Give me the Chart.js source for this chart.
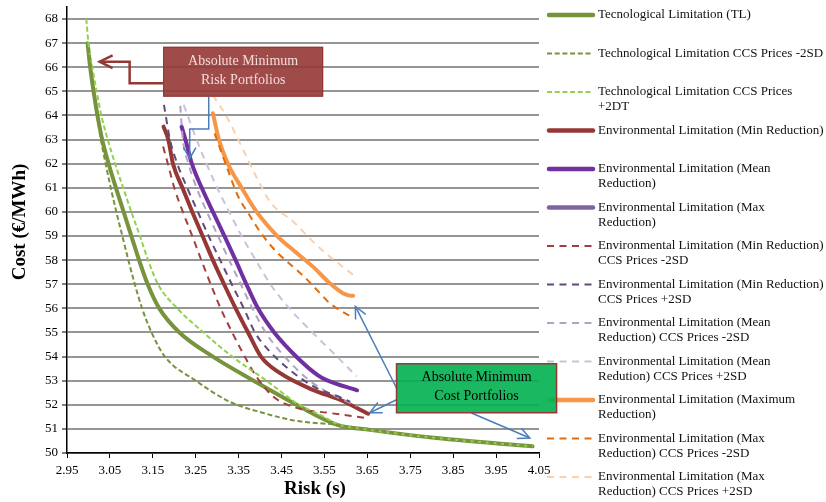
<!DOCTYPE html>
<html>
<head>
<meta charset="utf-8">
<script src="https://cdn.jsdelivr.net/npm/chart.js@4.4.1/dist/chart.umd.min.js"></script>
<style>
  html, body { margin: 0; padding: 0; background: #fff; }
  canvas { display: block; }
</style>
</head>
<body>
<canvas id="frontier" width="826" height="502"></canvas>
<script>
// Tick labels
const riskTicks = ['2.95', '3.05', '3.15', '3.25', '3.35', '3.45', '3.55', '3.65', '3.75', '3.85', '3.95', '4.05'];
const costTicks = [50, 51, 52, 53, 54, 55, 56, 57, 58, 59, 60, 61, 62, 63, 64, 65, 66, 67, 68];

// Efficient frontiers, [risk (s), cost (€/MWh)]
const tecLimit = [[2.998, 67.0], [3.004, 66.0], [3.012, 65.0], [3.021, 64.0], [3.032, 63.0], [3.047, 62.0], [3.064, 61.0], [3.082, 60.0], [3.1, 59.0], [3.118, 58.0], [3.138, 57.0], [3.165, 56.0], [3.212, 55.0], [3.29, 54.0], [3.385, 53.0], [3.485, 52.0], [3.58, 51.17], [3.656, 50.96], [3.811, 50.62], [4.035, 50.28]];
const tecLimitLow = [[3.0, 66.8], [3.006, 66.0], [3.013, 65.0], [3.02, 64.0], [3.029, 63.0], [3.04, 62.0], [3.052, 61.0], [3.065, 60.0], [3.079, 59.0], [3.093, 58.0], [3.108, 57.0], [3.125, 56.0], [3.147, 55.0], [3.178, 54.0], [3.25, 53.0], [3.33, 52.12], [3.406, 51.67], [3.485, 51.33], [3.58, 51.17], [3.656, 50.96], [3.811, 50.62], [4.035, 50.28]];
const tecLimitHigh = [[2.995, 68.0], [3.0, 67.0], [3.009, 66.0], [3.019, 65.0], [3.03, 64.0], [3.045, 63.0], [3.062, 62.0], [3.081, 61.0], [3.1, 60.0], [3.12, 59.0], [3.139, 58.0], [3.162, 57.0], [3.207, 56.0], [3.268, 55.0], [3.335, 54.0], [3.415, 53.0], [3.485, 52.07], [3.547, 51.52], [3.58, 51.2], [3.656, 50.96], [3.811, 50.62], [4.035, 50.28]];
const envMin = [[3.175, 63.54], [3.186, 63.0], [3.197, 62.0], [3.219, 61.0], [3.242, 60.0], [3.266, 59.0], [3.29, 58.0], [3.316, 57.0], [3.343, 56.0], [3.372, 55.0], [3.402, 54.0], [3.446, 53.32], [3.523, 52.62], [3.586, 52.21], [3.652, 51.63]];
const envMean = [[3.217, 63.54], [3.226, 63.0], [3.241, 62.0], [3.264, 61.0], [3.29, 60.0], [3.317, 59.0], [3.343, 58.0], [3.368, 57.0], [3.395, 56.0], [3.433, 55.0], [3.49, 53.9], [3.535, 53.22], [3.555, 53.02], [3.626, 52.6]];
const envMax = [];
const envMinLow = [[3.174, 62.71], [3.185, 62.0], [3.2, 61.0], [3.22, 60.0], [3.242, 59.0], [3.263, 58.0], [3.285, 57.0], [3.308, 56.0], [3.335, 55.0], [3.36, 54.14], [3.391, 53.18], [3.43, 52.35], [3.485, 51.87], [3.562, 51.66], [3.648, 51.45]];
const envMinHigh = [[3.176, 64.44], [3.19, 63.0], [3.207, 62.0], [3.23, 61.0], [3.255, 60.0], [3.28, 59.0], [3.307, 58.0], [3.334, 57.0], [3.362, 56.0], [3.388, 55.0], [3.413, 54.4], [3.469, 53.45], [3.531, 52.7], [3.586, 52.32], [3.61, 52.12]];
const envMeanLow = [[3.214, 64.4], [3.22, 63.0], [3.233, 62.0], [3.252, 61.0], [3.276, 60.0], [3.302, 59.0], [3.328, 58.0], [3.355, 57.0], [3.382, 56.0], [3.413, 55.0], [3.45, 54.14], [3.523, 52.9], [3.625, 51.94]];
const envMeanHigh = [[3.222, 64.44], [3.252, 63.0], [3.275, 62.0], [3.3, 61.0], [3.328, 60.0], [3.357, 59.0], [3.39, 58.0], [3.424, 57.0], [3.468, 56.0], [3.522, 55.0], [3.579, 54.0], [3.625, 53.18]];
const envMaximum = [[3.29, 64.09], [3.304, 63.0], [3.325, 62.0], [3.357, 61.0], [3.392, 60.0], [3.44, 59.0], [3.477, 58.42], [3.523, 57.73], [3.562, 57.05], [3.593, 56.63], [3.606, 56.54], [3.617, 56.52]];
const envMaximumLow = [[3.294, 63.26], [3.322, 61.88], [3.349, 60.64], [3.374, 59.9], [3.403, 59.1], [3.438, 58.35], [3.485, 57.6], [3.51, 57.18], [3.547, 56.49], [3.562, 56.22], [3.617, 55.6]];
const envMaximumHigh = [[3.29, 64.85], [3.322, 63.95], [3.357, 62.71], [3.391, 61.46], [3.424, 60.4], [3.477, 59.6], [3.539, 58.5], [3.617, 57.39]];

// Legend names, one entry per line of text
const seriesNames = [
  ['Tecnological Limitation (TL)'],
  ['Technological Limitation CCS Prices -2SD'],
  ['Technological Limitation CCS Prices', '+2DT'],
  ['Environmental Limitation (Min Reduction)'],
  ['Environmental Limitation (Mean', 'Reduction)'],
  ['Environmental Limitation (Max', 'Reduction)'],
  ['Environmental Limitation (Min Reduction)', 'CCS Prices -2SD'],
  ['Environmental Limitation (Min Reduction)', 'CCS Prices +2SD'],
  ['Environmental Limitation (Mean', 'Reduction) CCS Prices -2SD'],
  ['Environmental Limitation (Mean', 'Redution) CCS Prices +2SD'],
  ['Environmental Limitation (Maximum', 'Reduction)'],
  ['Environmental Limitation (Max', 'Reduction) CCS Prices -2SD'],
  ['Environmental Limitation (Max', 'Reduction) CCS Prices +2SD']
];
const seriesData = [tecLimit, tecLimitLow, tecLimitHigh, envMin, envMean, envMax, envMinLow, envMinHigh, envMeanLow, envMeanHigh, envMaximum, envMaximumLow, envMaximumHigh];

// Line styles
const GREEN_DASH = [5, 2.7];
const ENV_DASH = [7, 5.5];
const seriesStyles = [
  { color: '#77933C', dash: [] },
  { color: '#77933C', dash: GREEN_DASH },
  { color: '#92D050', dash: GREEN_DASH },
  { color: '#953735', dash: [] },
  { color: '#7030A0', dash: [] },
  { color: '#8064A2', dash: [] },
  { color: '#A33E3B', dash: ENV_DASH },
  { color: '#604A7B', dash: ENV_DASH },
  { color: '#B3A2C7', dash: ENV_DASH },
  { color: '#CCC1DA', dash: ENV_DASH },
  { color: '#F79646', dash: [] },
  { color: '#E46C0A', dash: ENV_DASH },
  { color: '#FAD1AE', dash: ENV_DASH }
];

// Callout anchors, [risk, cost]
const riskBox = { x0: 3.174, x1: 3.547, y0: 66.85, y1: 64.78, lines: ['Absolute Minimum', 'Risk Portfolios'] };
const costBox = { x0: 3.718, x1: 4.091, y0: 53.70, y1: 51.67, lines: ['Absolute Minimum', 'Cost Portfolios'] };
const riskArrowRed = [[3.174, 65.34], [3.096, 65.34], [3.096, 66.23], [3.026, 66.23]];
const riskArrowBlue = [[3.2803, 64.77], [3.2803, 63.44], [3.236, 63.44], [3.236, 62.22]];
const costArrows = [
  [[3.720, 52.625], [3.622, 56.08]],
  [[3.718, 52.21], [3.6556, 51.67]],
  [[3.8927, 51.66], [4.0286, 50.62]]
];

const FONT = '"Liberation Serif", "Times New Roman", serif';
Chart.defaults.font.family = FONT;
Chart.defaults.color = '#000';

const datasets = seriesData.map((pts, i) => {
  const st = seriesStyles[i];
  const dashed = st.dash.length > 0;
  return {
    label: seriesNames[i].join(' '),
    data: pts.map(p => ({ x: p[0], y: p[1] })),
    borderColor: st.color,
    backgroundColor: st.color,
    borderWidth: dashed ? 2 : 4,
    borderDash: st.dash,
    borderCapStyle: dashed ? 'butt' : 'round',
    borderJoinStyle: 'round',
    pointRadius: 0,
    pointHoverRadius: 0,
    cubicInterpolationMode: 'monotone',
    fill: false,
    order: dashed ? 0 : 1
  };
});

function drawArrow(ctx, pts, color, width, headLen, headAng) {
  ctx.save();
  ctx.strokeStyle = color;
  ctx.lineWidth = width;
  ctx.lineJoin = 'miter';
  ctx.setLineDash([]);
  ctx.beginPath();
  pts.forEach((p, i) => i ? ctx.lineTo(p[0], p[1]) : ctx.moveTo(p[0], p[1]));
  ctx.stroke();
  const [x1, y1] = pts[pts.length - 2];
  const [x2, y2] = pts[pts.length - 1];
  const a = Math.atan2(y2 - y1, x2 - x1);
  ctx.beginPath();
  ctx.moveTo(x2 - headLen * Math.cos(a - headAng), y2 - headLen * Math.sin(a - headAng));
  ctx.lineTo(x2, y2);
  ctx.lineTo(x2 - headLen * Math.cos(a + headAng), y2 - headLen * Math.sin(a + headAng));
  ctx.stroke();
  ctx.restore();
}

const decorations = {
  id: 'decorations',
  afterDraw(chart) {
    const ctx = chart.ctx;
    const xs = chart.scales.x, ys = chart.scales.y;
    const P = p => [xs.getPixelForValue(p[0]), ys.getPixelForValue(p[1])];
    const area = chart.chartArea;

    // Axis titles
    ctx.save();
    ctx.fillStyle = '#000';
    ctx.font = 'bold 19px ' + FONT;
    ctx.textAlign = 'center';
    ctx.textBaseline = 'middle';
    ctx.fillText('Risk (s)', (area.left + area.right) / 2 + 12, 489);
    ctx.translate(20, (area.top + area.bottom) / 2 - 8);
    ctx.rotate(-Math.PI / 2);
    ctx.fillText('Cost (€/MWh)', 0, 0);
    ctx.restore();

    // Legend
    const legendX = area.right + 8;
    chart.data.datasets.forEach((ds, i) => {
      const y = 15 + i * 38.5;
      const dashed = ds.borderDash.length > 0;
      ctx.save();
      ctx.strokeStyle = ds.borderColor;
      ctx.lineWidth = dashed ? 2 : 4.5;
      ctx.lineCap = dashed ? 'butt' : 'round';
      ctx.setLineDash(ds.borderDash);
      ctx.beginPath();
      ctx.moveTo(legendX + (dashed ? 0 : 2), y);
      ctx.lineTo(legendX + 46, y);
      ctx.stroke();
      ctx.restore();
      ctx.save();
      ctx.fillStyle = '#111';
      ctx.font = '13px ' + FONT;
      ctx.textBaseline = 'middle';
      seriesNames[i].forEach((t, k) => ctx.fillText(t, legendX + 51, y + k * 15));
      ctx.restore();
    });

    // Minimum risk callout
    const [rx0, ry0] = P([riskBox.x0, riskBox.y0]);
    const [rx1, ry1] = P([riskBox.x1, riskBox.y1]);
    drawArrow(ctx, riskArrowRed.map(P), '#953735', 2.5, 14.5, 0.46);
    ctx.save();
    ctx.fillStyle = 'rgba(149,55,53,0.9)';
    ctx.fillRect(rx0, ry0, rx1 - rx0, ry1 - ry0);
    ctx.strokeStyle = 'rgba(140,50,48,0.9)';
    ctx.lineWidth = 1;
    ctx.strokeRect(rx0 + 0.5, ry0 + 0.5, rx1 - rx0 - 1, ry1 - ry0 - 1);
    ctx.fillStyle = '#F2DCDB';
    ctx.font = '14px ' + FONT;
    ctx.textAlign = 'center';
    ctx.textBaseline = 'middle';
    riskBox.lines.forEach((t, k) => ctx.fillText(t, (rx0 + rx1) / 2, ry0 + 15 + k * 18.5));
    ctx.restore();
    drawArrow(ctx, riskArrowBlue.map(P), '#4A7EBB', 1.5, 12.5, 0.52);

    // Minimum cost callout
    costArrows.forEach(a => drawArrow(ctx, a.map(P), '#4A7EBB', 1.5, 13, 0.45));
    const [cx0, cy0] = P([costBox.x0, costBox.y0]);
    const [cx1, cy1] = P([costBox.x1, costBox.y1]);
    ctx.save();
    ctx.fillStyle = 'rgba(0,176,80,0.9)';
    ctx.fillRect(cx0, cy0, cx1 - cx0, cy1 - cy0);
    ctx.strokeStyle = '#953735';
    ctx.lineWidth = 1.5;
    ctx.strokeRect(cx0, cy0, cx1 - cx0, cy1 - cy0);
    ctx.fillStyle = '#000';
    ctx.font = '14px ' + FONT;
    ctx.textAlign = 'center';
    ctx.textBaseline = 'middle';
    costBox.lines.forEach((t, k) => ctx.fillText(t, (cx0 + cx1) / 2, cy0 + 14 + k * 19));
    ctx.restore();
  }
};

new Chart(document.getElementById('frontier'), {
  type: 'line',
  data: { datasets },
  plugins: [decorations],
  options: {
    responsive: false,
    animation: false,
    devicePixelRatio: 1,
    layout: { padding: { top: 7, right: 287, bottom: 0, left: 0 } },
    plugins: {
      legend: { display: false },
      tooltip: { enabled: false },
      title: { display: false }
    },
    scales: {
      x: {
        type: 'linear',
        min: 2.95,
        max: 4.05,
        afterBuildTicks: s => { s.ticks = riskTicks.map(t => ({ value: parseFloat(t) })); },
        afterFit: s => { s.height = 49; s.paddingLeft = 0; s.paddingRight = 0; },
        ticks: {
          autoSkip: false,
          maxRotation: 0,
          padding: 5,
          font: { size: 13 },
          color: '#000',
          callback: (v, i) => riskTicks[i]
        },
        grid: { drawOnChartArea: false, drawTicks: true, tickLength: 5, color: '#000', tickColor: '#000' },
        border: { display: true, color: '#000', width: 1.5 }
      },
      y: {
        type: 'linear',
        min: 50,
        max: 68.5,
        afterBuildTicks: s => { s.ticks = costTicks.map(v => ({ value: v })); },
        afterFit: s => { s.width = 67; s.paddingTop = 0; s.paddingBottom = 0; },
        ticks: {
          autoSkip: false,
          padding: 4,
          font: { size: 13 },
          color: '#000',
          callback: (v, i) => String(costTicks[i])
        },
        grid: { drawOnChartArea: true, drawTicks: true, tickLength: 5, color: '#959595', lineWidth: 2, tickColor: '#000', tickWidth: 1 },
        border: { display: true, color: '#000', width: 1.5 }
      }
    }
  }
});
</script>
</body>
</html>
